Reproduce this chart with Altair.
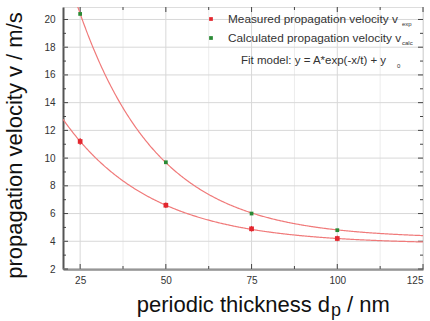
import altair as alt
import pandas as pd

# data
thickness = [25, 50, 75, 100]
v_measured = [11.2, 6.6, 4.9, 4.2]
v_measured_err = [0.25, 0.2, 0.2, 0.2]
v_calc = [20.4, 9.7, 6.0, 4.8]
# fit parameters y = A*exp(-x/t) + y0
fit_meas = {"A": 19.6, "t": 25.7, "y0": 3.8}
fit_calc = {"A": 48.1, "t": 23.0, "y0": 4.2}

x_major = [25, 50, 75, 100, 125]
x_minor = [37.5, 62.5, 87.5, 112.5]
y_major = [2, 4, 6, 8, 10, 12, 14, 16, 18, 20]
y_minor = [3, 5, 7, 9, 11, 13, 15, 17, 19]

W, H = 360, 262
FONT = "Liberation Sans"
RED = "#e3262e"
GREEN = "#2a8a35"
FIT = "#f07a7a"

xs = alt.Scale(domain=[20, 125], nice=False, zero=False)
ys = alt.Scale(domain=[2, 20.9], nice=False, zero=False)

meas = pd.DataFrame({"x": thickness, "y": v_measured,
                     "lo": [v - e for v, e in zip(v_measured, v_measured_err)],
                     "hi": [v + e for v, e in zip(v_measured, v_measured_err)]})
calc = pd.DataFrame({"x": thickness, "y": v_calc})

xax = alt.Axis(values=x_major, grid=False, ticks=False, labelFont=FONT, labelFontSize=10,
               labelColor="#333", labelPadding=6, domainColor="#555", domainWidth=2, title=None,
               labelOverlap=False)
yax = alt.Axis(values=y_major, grid=False, ticks=False, labelFont=FONT, labelFontSize=10,
               labelColor="#333", labelPadding=8, domainColor="#555", domainWidth=2,
               labelOverlap=False,
               title="propagation velocity v / m/s", titleFont=FONT, titleFontSize=22,
               titleFontWeight="normal", titleColor="#111", titleX=-37, titleY=138,
               titleBaseline="bottom", titleAngle=270)

X = lambda f: alt.X(f, scale=xs, axis=xax, title=None)
Y = lambda f: alt.Y(f, scale=ys, axis=yax, title="propagation velocity v / m/s")

# grid
xgrid = alt.Chart(pd.DataFrame({"v": x_major})).mark_rule(color="#d8d8d8", strokeWidth=1).encode(
    x=X("v:Q"))
xgrid_minor = alt.Chart(pd.DataFrame({"v": x_minor})).mark_rule(color="#ececec", strokeWidth=1).encode(
    x=X("v:Q"))
ygrid = alt.Chart(pd.DataFrame({"v": y_major})).mark_rule(color="#d8d8d8", strokeWidth=1).encode(
    y=Y("v:Q"))

# inward ticks
def yticks(vals, length, side):
    df = pd.DataFrame({"v": vals})
    if side == "left":
        x1, x2 = 0, length
    else:
        x1, x2 = W - length, W
    return alt.Chart(df).mark_rule(color="#444", strokeWidth=1).encode(
        y=Y("v:Q"), x=alt.value(x1), x2=alt.value(x2))

def xticks(vals, length, side):
    df = pd.DataFrame({"v": vals})
    if side == "bottom":
        y1, y2 = H - length, H
    else:
        y1, y2 = 0, length
    return alt.Chart(df).mark_rule(color="#444", strokeWidth=1).encode(
        x=X("v:Q"), y=alt.value(y1), y2=alt.value(y2))

ticks = [yticks(y_major, 5, "left"), yticks(y_minor, 3, "left"),
         yticks(y_major, 5, "right"), yticks(y_minor, 3, "right"),
         xticks(x_major, 5, "bottom"), xticks(x_minor, 3, "bottom"),
         xticks(x_major, 5, "top"), xticks(x_minor, 3, "top")]

# fit curves
def fit_curve(p):
    return alt.Chart(alt.sequence(20, 125.25, 0.25, as_="x")).transform_calculate(
        y=f"{p['A']}*exp(-datum.x/{p['t']}) + {p['y0']}"
    ).mark_line(color=FIT, strokeWidth=1.2, clip=True).encode(
        x=X("x:Q"), y=Y("y:Q"))

fit1 = fit_curve(fit_meas)
fit2 = fit_curve(fit_calc)

err = alt.Chart(meas).mark_rule(color=RED, strokeWidth=1).encode(
    x=X("x:Q"), y=Y("lo:Q"), y2="hi:Q")
pts_meas = alt.Chart(meas).mark_square(color=RED, opacity=1, size=22).encode(
    x=X("x:Q"), y=Y("y:Q"))
pts_calc = alt.Chart(calc).mark_square(color=GREEN, opacity=1, size=14, clip=True).encode(
    x=X("x:Q"), y=Y("y:Q"))

# legend
def txt(s, x, y, size=11, align="left", color="#333", baseline="middle"):
    return alt.Chart(pd.DataFrame({"t": [s]})).mark_text(
        font=FONT, fontSize=size, align=align, baseline=baseline, color=color).encode(
        text="t:N", x=alt.value(x), y=alt.value(y))

leg_pts = [
    alt.Chart(pd.DataFrame({"a": [0]})).mark_square(color=RED, opacity=1, size=14).encode(
        x=alt.value(148), y=alt.value(12)),
    alt.Chart(pd.DataFrame({"a": [0]})).mark_square(color=GREEN, opacity=1, size=14).encode(
        x=alt.value(148), y=alt.value(31)),
]
leg_txt = [
    txt("Measured propagation velocity v", 165, 12, size=11.8),
    txt("exp", 339, 17, size=6),
    txt("Calculated propagation velocity v", 165, 31, size=11.8),
    txt("calc", 339, 36, size=6),
    txt("Fit model: y = A*exp(-x/t) + y", 178, 54, size=11.5),
    txt("0", 334, 59, size=6),
]

# x title with subscript
xt = [
    txt("periodic thickness d", 267, 305, size=22, align="right", color="#111", baseline="alphabetic"),
    txt("p", 268, 309, size=18, color="#111", baseline="alphabetic"),
    txt("/ nm", 284, 305, size=22, color="#111", baseline="alphabetic"),
]

chart = alt.layer(xgrid_minor, xgrid, ygrid, *ticks, fit1, fit2, err, pts_meas, pts_calc,
                  *leg_pts, *leg_txt, *xt).properties(
    width=W, height=H,
    autosize=alt.AutoSizeParams(type="none"),
    padding={"left": 63, "top": 7, "right": 7, "bottom": 52},
).configure_view(stroke="#666", strokeWidth=1).configure(background="white")

chart.save("out.html", embed_options={"renderer": "svg", "actions": False})
